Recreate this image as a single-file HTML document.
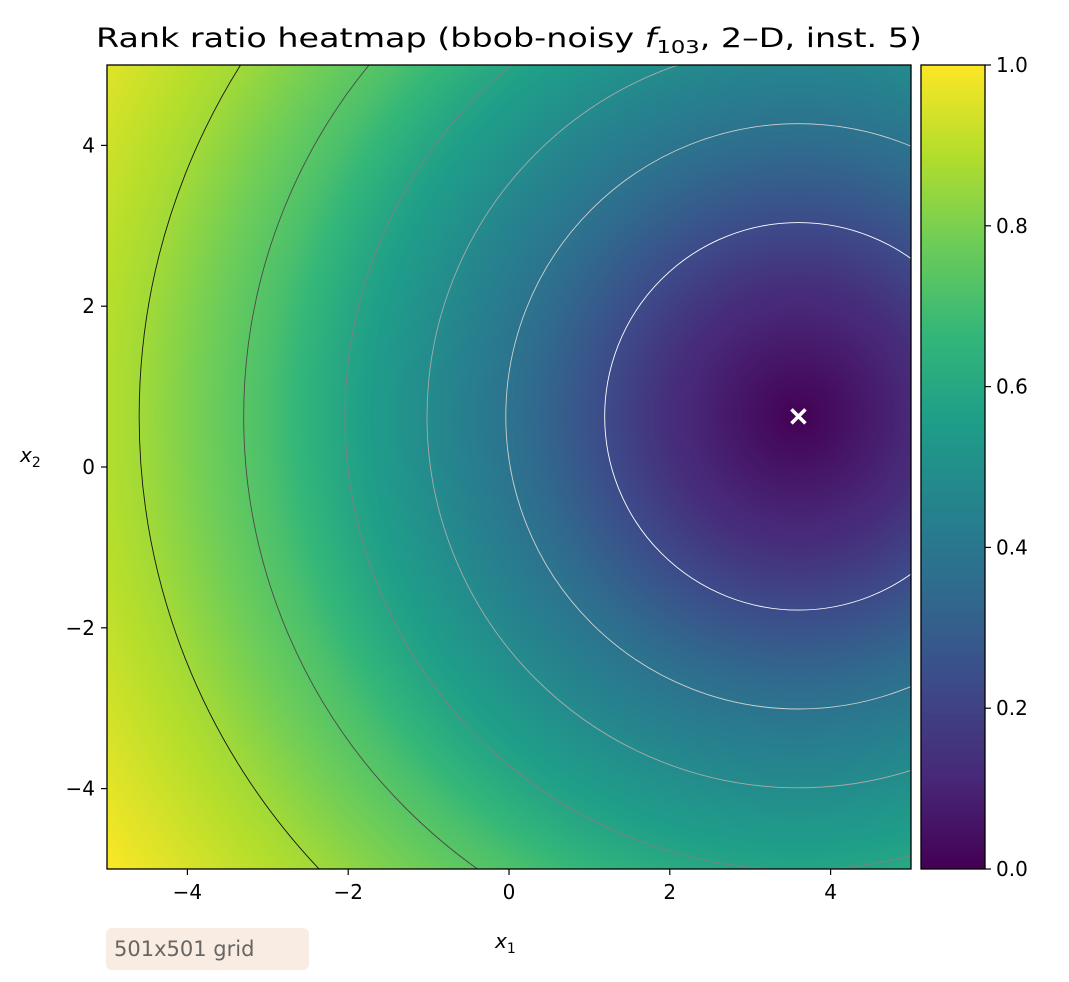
<!DOCTYPE html>
<html><head><meta charset="utf-8"><style>
html,body{margin:0;background:#fff;font-family:"DejaVu Sans","Liberation Sans",sans-serif;overflow:hidden;width:1069px;height:982px;}
#wrap{position:relative;width:1069px;height:982px;overflow:hidden;}
canvas,svg{display:block}
</style></head><body>
<div id="wrap">
<canvas id="heat" width="804" height="804" style="position:absolute;left:107px;top:65px"></canvas>
<canvas id="cbar" width="64" height="804" style="position:absolute;left:921px;top:65px"></canvas>
<svg id="svg" width="1069" height="982" style="position:absolute;left:0;top:0"></svg>
<div style="position:absolute;left:106px;top:928px;width:203px;height:42px;background:#f9ece2;border-radius:6px;color:#666;font-size:21px;line-height:42px;padding-left:8px;box-sizing:border-box;white-space:nowrap">501x501 grid</div>
</div>
<script>
const xTicks=[-4,-2,0,2,4];
const yTicks=[-4,-2,0,2,4];
const cbTicks=[0.0,0.2,0.4,0.6,0.8,1.0];
const optimum=[3.6,0.63];
const contourRadii=[2.41,3.64,4.62,5.64,6.9,8.2];
const contourColors=['#ffffff','#d0d0d0','#aaaaaa','#808080','#4a4a4a','#151515'];
const valueRadii=[0,1.6,3.6,5.6,6.6,8.2,10.3,12];
const valueLevels=[0,0.13,0.38,0.58,0.71,0.86,1.0,1.0];
const X0=107,X1=911,Y0=65,Y1=869;
const sx=v=>X0+(v+5)/10*(X1-X0);
const sy=v=>Y1-(v+5)/10*(Y1-Y0);
const vir=[[68,1,84],[72,40,120],[62,73,137],[49,104,142],[38,130,142],[31,158,137],[53,183,121],[109,205,89],[180,222,44],[253,231,37]];
function cmap(t){t=Math.max(0,Math.min(1,t))*9;const i=Math.min(8,Math.floor(t)),f=t-i;const a=vir[i],b=vir[i+1];return [a[0]+(b[0]-a[0])*f,a[1]+(b[1]-a[1])*f,a[2]+(b[2]-a[2])*f];}
function val(r){for(let i=1;i<valueRadii.length;i++){if(r<=valueRadii[i]){const f=(r-valueRadii[i-1])/(valueRadii[i]-valueRadii[i-1]);return valueLevels[i-1]+f*(valueLevels[i]-valueLevels[i-1]);}}return 1;}
const hc=document.getElementById('heat').getContext('2d');
const img=hc.createImageData(804,804);
for(let j=0;j<804;j++)for(let i=0;i<804;i++){const x=-5+(i+0.5)/80.4,y=5-(j+0.5)/80.4;const r=Math.hypot(x-optimum[0],y-optimum[1]);const c=cmap(val(r));const k=(j*804+i)*4;img.data[k]=c[0];img.data[k+1]=c[1];img.data[k+2]=c[2];img.data[k+3]=255;}
hc.putImageData(img,0,0);
const cc=document.getElementById('cbar').getContext('2d');
for(let j=0;j<804;j++){const c=cmap(1-j/803);cc.fillStyle=`rgb(${c[0]|0},${c[1]|0},${c[2]|0})`;cc.fillRect(0,j,64,1);}
const NS='http://www.w3.org/2000/svg';const svg=document.getElementById('svg');
function el(t,a,p){const e=document.createElementNS(NS,t);for(const k in a)e.setAttribute(k,a[k]);(p||svg).appendChild(e);return e;}
const defs=el('defs',{});const cp=el('clipPath',{id:'clip'},defs);el('rect',{x:X0,y:Y0,width:X1-X0,height:Y1-Y0},cp);
const cg=el('g',{'clip-path':'url(#clip)'});
contourRadii.forEach((r,i)=>{const c=el('ellipse',{cx:sx(optimum[0]),cy:sy(optimum[1]),rx:r*80.4,ry:r*80.4,fill:'none',stroke:contourColors[i],'stroke-width':0.9},cg);

});
const mx=sx(optimum[0]),my=sy(optimum[1]);
const m=el('path',{d:`M${mx-7} ${my-7}L${mx+7} ${my+7}M${mx+7} ${my-7}L${mx-7} ${my+7}`,stroke:'#fff','stroke-width':3.5});


el('rect',{x:X0,y:Y0,width:X1-X0,height:Y1-Y0,fill:'none',stroke:'#000','stroke-width':1.3});
el('rect',{x:921,y:65,width:64,height:804,fill:'none',stroke:'#000','stroke-width':1.3});
const fs=20;
xTicks.forEach(v=>{const x=sx(v);el('line',{x1:x,x2:x,y1:Y1,y2:Y1+6,stroke:'#000','stroke-width':1.2});const t=el('text',{x:x,y:Y1+30,'text-anchor':'middle','font-size':fs});t.textContent=(v<0?'−':'')+Math.abs(v);

});
yTicks.forEach(v=>{const y=sy(v);el('line',{x1:X0-6,x2:X0,y1:y,y2:y,stroke:'#000','stroke-width':1.2});const t=el('text',{x:X0-12,y:y+7,'text-anchor':'end','font-size':fs});t.textContent=(v<0?'−':'')+Math.abs(v);

});
cbTicks.forEach(v=>{const y=869-v*804;el('line',{x1:985,x2:991,y1:y,y2:y,stroke:'#000','stroke-width':1.2});const t=el('text',{x:996,y:y+7,'font-size':fs});t.textContent=v.toFixed(1);

});
const xl=el('text',{x:495,y:948,'font-size':fs,'font-style':'italic'});xl.innerHTML='x<tspan font-size="14" dy="5" font-style="normal">1</tspan>';


const yl=el('text',{x:20,y:462,'font-size':fs,'font-style':'italic'});yl.innerHTML='x<tspan font-size="14" dy="5" font-style="normal">2</tspan>';


const tt=el('text',{x:96,y:47,'font-size':26.5,textLength:826,lengthAdjust:'spacingAndGlyphs'});tt.innerHTML='Rank ratio heatmap (bbob-noisy <tspan font-style="italic">f</tspan><tspan font-size="18" dy="6">103</tspan><tspan dy="-6">, 2–D, inst. 5)</tspan>';


</script>
</body></html>
